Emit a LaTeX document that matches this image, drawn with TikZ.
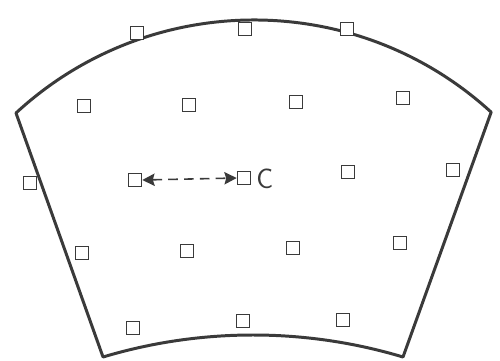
\documentclass[tikz,border=0pt]{standalone}
\usetikzlibrary{arrows.meta}
\definecolor{ink}{HTML}{3A3A3A}
\tikzset{
  outline/.style={draw=ink, line width=1.7pt, line join=round},
  sq/.style={draw=ink, line width=0.9pt, minimum size=0.26cm, inner sep=0pt, fill=white},
  dist/.style={draw=ink, line width=0.9pt, dash pattern=on 5.5pt off 3.5pt,
    {Stealth[length=7pt,width=7pt,inset=1pt]}-{Stealth[length=7pt,width=7pt,inset=1pt]}},
  lab/.style={font=\sffamily\fontsize{16}{18}\selectfont, text=ink, inner sep=0pt}
}
\begin{document}
\begin{tikzpicture}[x=0.02cm,y=0.02cm]
\useasboundingbox (0,0) rectangle (500,360);
\draw[outline] (16,247) arc[start angle=132.7, end angle=47.5, radius=351]
  -- (403,3) arc[start angle=73.3, end angle=106.7, radius=522] -- cycle;
% row 1
\node[sq] (a1) at (137,327) {};
\node[sq] (a2) at (245,331) {};
\node[sq] (a3) at (347,331) {};
% row 2
\node[sq] (b1) at (84,254) {};
\node[sq] (b2) at (189,255) {};
\node[sq] (b3) at (296,258) {};
\node[sq] (b4) at (403,262) {};
% row 3
\node[sq] (c1) at (30,177) {};
\node[sq] (c2) at (135,180) {};
\node[sq] (c3) at (244,182) {};
\node[sq] (c4) at (348,188) {};
\node[sq] (c5) at (453,190) {};
% row 4
\node[sq] (d1) at (82,107) {};
\node[sq] (d2) at (187,109) {};
\node[sq] (d3) at (293,112) {};
\node[sq] (d4) at (400,117) {};
% row 5
\node[sq] (e1) at (133,32) {};
\node[sq] (e2) at (243,39) {};
\node[sq] (e3) at (343,40) {};
% distance arrow and label
\draw[dist] (c2.east) -- (c3.west);
\node[lab, anchor=west] (lc) at (256,181) {C};
\end{tikzpicture}
\end{document}
